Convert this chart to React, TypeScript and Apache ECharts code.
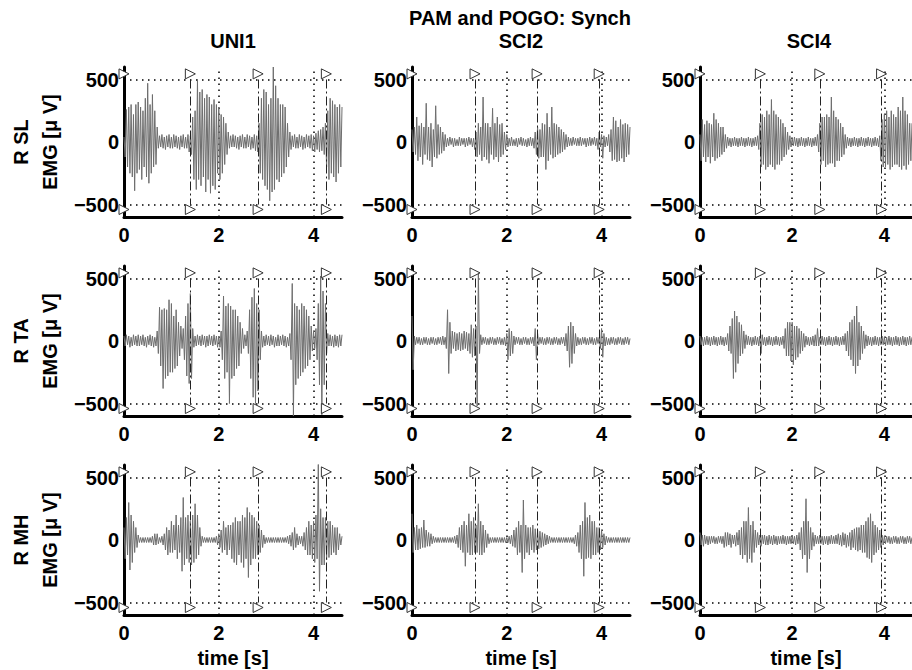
import React, { useEffect, useRef } from 'react';
import * as echarts from 'echarts';

// EMG traces every DT seconds, in units of 10 µV
const DT = 0.025;
const UNIT = 10;
const X_MAX = 4.6;

const subjects = ['UNI1', 'SCI2', 'SCI4'];
const muscles = ['R SL', 'R TA', 'R MH'];
const mainTitle = 'PAM and POGO: Synch';
const yTicks = [-500, 0, 500];
const xTicks = [0, 2, 4];

// event (heel strike) times per subject, s
const eventsUNI1 = [0, 1.4, 2.83, 4.27];
const eventsSCI2 = [0, 1.33, 2.64, 3.95];
const eventsSCI4 = [0, 1.31, 2.6, 3.94];

const slUNI1 = [
  4,-12,26,-20,28,-25,30,-28,22,-39, 30,-25,32,-22,28,-30,25,-20,35,-28,
  47,-33,30,-25,38,-20,25,-18,12,-5, 5,-4,6,-5,4,-6,5,-4,6,-5,
  4,-5,6,-4,5,-5,4,-6,5,-4, 6,-5,4,-5,6,-8,5,-10,20,-30,
  25,-38,50,-30,40,-35,42,-28,35,-40, 38,-30,36,-41,30,-35,34,-38,30,-25,
  28,-30,22,-25,20,-18,15,-10,8,-5, 5,-4,6,-4,5,-5,4,-6,5,-4,
  6,-5,4,-5,6,-4,5,-6,4,-5, 6,-7,5,-8,15,-25,35,-30,42,-35,
  40,-38,30,-47,35,-40,60,-38,45,-30, 35,-32,30,-28,30,-25,28,-20,15,-12,
  8,-6,5,-4,6,-5,4,-5,6,-4, 5,-6,4,-5,6,-4,5,-5,6,-7,
  5,-8,7,-6,9,-8,10,-7,12,-10, 15,-20,25,-30,35,-25,33,-28,30,-32,
  28,-25,30,-20,28];
const slSCI2 = [
  10,-8,12,-10,20,-15,13,-12,15,-18, 12,-10,31,-14,12,-15,15,-20,10,-12,
  29,-13,14,-10,12,-9,8,-7,6,-4, 3,-3,4,-2,3,-4,3,-3,2,-3,
  4,-3,3,-2,3,-4,3,-3,4,-2, 3,-4,3,-6,8,-12,15,-10,12,-15,
  36,-12,15,-14,15,-17,12,-10,27,-14, 15,-12,20,-16,14,-12,15,-10,8,-6,
  6,-4,3,-3,4,-3,2,-3,3,-4, 3,-2,4,-3,3,-3,2,-4,3,-3,
  4,-3,3,-5,8,-10,12,-13,10,-12, 15,-12,14,-22,23,-15,12,-10,28,-13,
  15,-12,14,-10,12,-9,10,-8,8,-6, 6,-4,4,-3,3,-3,4,-2,3,-3,
  3,-3,4,-3,3,-2,3,-4,3,-3, 4,-3,3,-2,4,-3,3,-6,8,-4,
  6,-13,5,-4,4,-3,6,-8,10,-15, 20,-14,17,-16,12,-15,18,-13,14,-16,
  15,-12,14,-10,12];
const slSCI4 = [
  6,-15,18,-12,14,-16,17,-12,15,-17, 14,-12,23,-15,18,-13,15,-12,12,-10,
  12,-8,6,-5,4,-3,3,-4,3,-3, 4,-3,3,-4,3,-3,4,-3,3,-4,
  3,-3,4,-3,3,-4,3,-3,4,-3, 5,-6,15,-20,22,-18,20,-22,25,-20,
  22,-18,34,-20,25,-22,22,-18,20,-18, 18,-15,15,-12,12,-10,8,-6,5,-4,
  3,-3,4,-3,3,-4,3,-3,4,-3, 3,-4,3,-3,4,-3,3,-4,3,-3,
  4,-3,6,-8,15,-18,20,-15,20,-20, 22,-18,20,-17,36,-17,25,-20,20,-15,
  18,-15,15,-12,12,-10,6,-5,4,-3, 3,-4,3,-3,4,-3,3,-4,3,-3,
  4,-3,3,-4,3,-3,4,-3,3,-4, 3,-3,4,-3,3,-4,5,-15,18,-20,
  22,-20,25,-18,20,-22,25,-20,22,-18, 20,-18,28,-20,25,-22,36,-19,25,-22,
  22,-18,15,-15,15];
const taUNI1 = [
  4,-4,5,-3,4,-5,3,-4,5,-3, 4,-4,5,-4,4,-3,5,-4,3,-5,
  4,-3,5,-4,4,-5,3,-4,8,-10, 27,-20,25,-38,26,-30,25,-28,33,-25,
  30,-25,20,-22,25,-20,15,-12,12,-6, 10,-15,20,-28,30,-34,38,-30,10,-5,
  4,-4,5,-3,4,-4,5,-3,4,-5, 4,-4,5,-3,4,-4,5,-3,4,-5,
  4,-5,8,-15,36,-30,28,-25,30,-50, 28,-30,25,-28,25,-22,20,-20,15,-10,
  10,-6,5,-4,8,-10,25,-30,35,-45, 42,-50,30,-40,25,-15,8,-5,4,-4,
  5,-3,4,-4,5,-3,4,-5,3,-4, 5,-4,4,-3,5,-4,4,-5,3,-4,
  6,-15,46,-60,30,-35,28,-30,25,-28, 30,-25,28,-22,25,-20,20,-15,12,-8,
  8,-6,10,-15,30,-35,52,-59,40,-35, 30,-10,6,-4,5,-4,4,-5,5,-4,
  4,-5,5,-4,5];
const taSCI2 = [
  20,-23,4,-3,3,-2,3,-3,2,-3, 3,-2,3,-3,2,-3,3,-2,3,-3,
  2,-3,3,-2,3,-3,4,-3,3,-6, 25,-26,15,-10,8,-6,7,-8,6,-7,
  7,-8,6,-7,8,-6,7,-8,6,-10, 13,-13,10,-12,12,-52,55,-10,5,-3,
  3,-2,3,-3,2,-3,3,-2,3,-3, 2,-3,3,-2,3,-3,2,-3,3,-4,
  6,-15,10,-12,8,-10,4,-3,3,-2, 3,-3,2,-3,3,-2,3,-3,2,-3,
  3,-2,3,-4,10,-15,6,-3,3,-2, 3,-3,2,-3,3,-2,3,-3,2,-3,
  3,-2,3,-3,2,-3,3,-2,3,-4, 6,-8,12,-21,15,-18,12,-10,6,-4,
  3,-3,2,-3,3,-2,3,-3,2,-3, 3,-2,3,-3,2,-3,3,-2,3,-6,
  10,-13,6,-4,3,-3,2,-3,3,-2, 3,-3,2,-3,3,-2,3,-3,2,-3,
  3,-2,3,-3,2];
const taSCI4 = [
  4,-3,3,-4,3,-3,4,-3,3,-4, 3,-3,4,-3,3,-4,3,-3,4,-3,
  3,-4,3,-3,6,-8,12,-10,18,-30, 24,-25,20,-18,15,-12,13,-10,8,-6,
  5,-3,4,-3,3,-4,3,-3,4,-3, 3,-4,4,-10,5,-3,3,-4,3,-3,
  4,-3,3,-4,3,-3,4,-3,3,-4, 3,-3,4,-6,10,-12,15,-12,15,-16,
  15,-19,12,-15,12,-13,10,-10,8,-8, 6,-5,4,-3,3,-4,3,-3,4,-4,
  5,-4,10,-4,3,-3,4,-3,3,-4, 3,-3,4,-3,3,-4,3,-3,4,-3,
  3,-4,3,-3,4,-3,6,-8,8,-12, 15,-15,17,-20,20,-26,28,-20,15,-15,
  12,-10,8,-6,5,-4,4,-3,3,-4, 3,-3,4,-3,3,-4,3,-3,4,-3,
  3,-4,3,-3,4,-3,3,-4,3,-3, 4,-3,3,-4,3,-3,4,-3,3,-4,
  3,-3,4,-3,3];
const mhUNI1 = [
  10,-15,18,-12,30,-24,20,-18,15,-10, 10,-6,4,-2,2,-2,2,-2,2,-2,
  2,-2,2,-2,3,-4,5,-4,5,-3, 2,-2,3,-4,5,-8,10,-12,8,-10,
  15,-10,12,-8,20,-15,12,-10,18,-25, 34,-20,18,-15,20,-18,15,-20,20,-18,
  29,-15,20,-12,10,-5,3,-2,2,-2, 2,-2,2,-2,2,-2,2,-2,3,-4,
  5,-6,8,-10,15,-8,10,-12,12,-8, 12,-15,14,-18,18,-20,15,-12,15,-18,
  20,-22,18,-15,26,-30,22,-20,20,-15, 18,-15,15,-12,12,-10,8,-6,4,-3,
  2,-2,2,-2,2,-2,2,-2,2,-2, 2,-2,2,-2,2,-2,2,-2,3,-3,
  4,-5,6,-8,10,-6,5,-4,3,-3, 3,-5,6,-8,10,-12,15,-12,12,-15,
  15,-18,20,-15,61,-41,25,-20,18,-20, 18,-16,15,-14,15,-12,12,-10,10,-12,
  10,-8,5,-4,3];
const mhSCI2 = [
  21,-10,10,-8,12,-8,9,-7,10,-6, 16,-6,8,-5,6,-5,5,-3,3,-2,
  2,-2,2,-2,2,-2,2,-2,2,-2, 2,-2,2,-2,2,-2,3,-3,4,-6,
  10,-8,12,-10,15,-21,12,-10,21,-12, 15,-12,18,-10,12,-10,29,-12,15,-12,
  12,-10,8,-6,5,-3,2,-2,2,-2, 2,-2,2,-2,2,-2,2,-2,2,-2,
  2,-2,3,-3,4,-5,8,-6,10,-12, 15,-10,12,-26,32,-15,12,-10,10,-12,
  10,-8,12,-10,9,-8,8,-7,7,-6, 6,-5,5,-4,4,-3,3,-2,2,-2,
  2,-2,2,-2,2,-2,2,-2,2,-2, 2,-2,2,-2,2,-2,2,-3,4,-5,
  6,-10,12,-15,15,-29,30,-15,18,-14, 20,-15,15,-12,15,-12,10,-10,10,-8,
  8,-6,5,-4,3,-2,2,-2,2,-2, 2,-2,2,-2,2,-2,2,-2,2,-2,
  2,-2,2,-2,2];
const mhSCI4 = [
  6,-4,4,-5,4,-3,3,-4,3,-3, 3,-2,3,-3,2,-3,3,-2,3,-3,
  3,-6,6,-5,6,-4,5,-6,4,-3, 4,-5,6,-4,8,-12,10,-15,15,-12,
  15,-18,26,-15,12,-18,15,-10,8,-6, 6,-4,4,-5,4,-3,4,-4,3,-4,
  4,-3,3,-4,4,-3,3,-4,3,-3, 3,-3,4,-3,3,-4,3,-3,3,-3,
  4,-3,3,-4,4,-3,6,-8,10,-15, 15,-12,33,-26,15,-15,10,-8,6,-5,
  4,-3,3,-3,4,-3,3,-4,3,-3, 3,-4,3,-3,4,-3,3,-3,4,-3,
  5,-4,4,-5,6,-4,5,-6,4,-5, 6,-8,8,-6,9,-8,10,-9,10,-8,
  12,-10,12,-10,15,-14,18,-15,21,-18, 15,-12,12,-10,10,-8,8,-6,4,-4,
  3,-3,3,-2,3,-3,2,-3,3,-2, 3,-3,2,-3,3,-2,3,-3,2,-3,
  3,-2,3,-3,2];

const traces = [
  [slUNI1, slSCI2, slSCI4],
  [taUNI1, taSCI2, taSCI4],
  [mhUNI1, mhSCI2, mhSCI4],
];
const events = [eventsUNI1, eventsSCI2, eventsSCI4];

const FONT = '"Liberation Sans", Arial, Helvetica, sans-serif';
const FS = 20;
const COL_LEFT = [124, 412, 700];
const ROW_TOP = [67, 266, 465];
const GW = 218;
const GH = 150;

function buildOption() {
  const grid: any[] = [];
  const xAxis: any[] = [];
  const yAxis: any[] = [];
  const series: any[] = [];
  const graphic: any[] = [];
  const labelStyle = { color: '#000', fontSize: FS, fontWeight: 'bold', fontFamily: FONT };

  for (let r = 0; r < 3; r++) {
    for (let c = 0; c < 3; c++) {
      const k = r * 3 + c;
      grid.push({ left: COL_LEFT[c], top: ROW_TOP[r], width: GW, height: GH });
      xAxis.push({
        gridIndex: k, type: 'value', min: 0, max: X_MAX, interval: 2,
        name: r === 2 ? 'time [s]' : '', nameLocation: 'middle', nameGap: 33,
        nameTextStyle: { ...labelStyle },
        axisLine: { show: true, onZero: false, lineStyle: { color: '#000', width: 3 } },
        axisTick: { show: false }, splitLine: { show: false },
        axisLabel: {
          ...labelStyle, margin: 8, showMaxLabel: false,
          formatter: (v: number) => (xTicks.includes(v) ? String(v) : ''),
        },
      });
      yAxis.push({
        gridIndex: k, type: 'value', min: -600, max: 600, interval: 100,
        axisLine: { show: true, onZero: false, lineStyle: { color: '#000', width: 3 } },
        axisTick: { show: false }, splitLine: { show: false },
        axisLabel: {
          ...labelStyle, margin: 5,
          formatter: (v: number) => (yTicks.includes(v) ? (v < 0 ? '\u2212' + Math.abs(v) : String(v)) : ''),
        },
      });
      const vals = traces[r][c];
      const ev = events[c];
      series.push({
        type: 'line', xAxisIndex: k, yAxisIndex: k, z: 2,
        data: vals.map((v, i) => [+(i * DT).toFixed(3), v * UNIT]),
        showSymbol: false, symbol: 'none', silent: true,
        lineStyle: { color: '#6e6e6e', width: 1 },
        markLine: {
          silent: true, symbol: ['none', 'none'], label: { show: false }, z: 1,
          lineStyle: { color: '#000', width: 1.5, type: [1.5, 4.5] },
          data: [{ yAxis: 500 }, { yAxis: -500 }, { xAxis: 2 }, { xAxis: 4 }],
        },
      });
      series.push({
        type: 'scatter', xAxisIndex: k, yAxisIndex: k, z: 6, silent: true,
        symbol: 'path://M0,0L10,5L0,10Z', symbolSize: [10, 10],
        itemStyle: { color: '#fff', borderColor: '#333', borderWidth: 1, opacity: 1 },
        data: ev.flatMap((t) => [[t, 545], [t, -540]]),
        markLine: {
          silent: true, symbol: ['none', 'none'], label: { show: false }, z: 5,
          lineStyle: { color: '#222', width: 1, type: [9, 3, 2, 3] },
          data: ev.filter((t) => t > 0).map((t) => [{ coord: [t, 500] }, { coord: [t, -500] }]),
        },
      });
    }
  }

  graphic.push({
    type: 'text', x: 520, y: 18, silent: true,
    style: { text: mainTitle, textAlign: 'center', textVerticalAlign: 'middle', fill: '#000', font: `bold ${FS}px ${FONT}` },
  });
  subjects.forEach((s, c) => {
    graphic.push({
      type: 'text', x: COL_LEFT[c] + GW / 2, y: 41, silent: true,
      style: { text: s, textAlign: 'center', textVerticalAlign: 'middle', fill: '#000', font: `bold ${FS}px ${FONT}` },
    });
  });
  muscles.forEach((m, r) => {
    const cy = ROW_TOP[r] + GH / 2;
    graphic.push({
      type: 'text', x: 21, y: cy, rotation: Math.PI / 2, silent: true,
      style: { text: m, textAlign: 'center', textVerticalAlign: 'middle', fill: '#000', font: `bold ${FS}px ${FONT}` },
    });
    graphic.push({
      type: 'text', x: 50, y: cy, rotation: Math.PI / 2, silent: true,
      style: { text: 'EMG [\u03bc V]', textAlign: 'center', textVerticalAlign: 'middle', fill: '#000', font: `bold ${FS}px ${FONT}` },
    });
  });

  return { animation: false, backgroundColor: '#fff', grid, xAxis, yAxis, series, graphic };
}

export default function App() {
  const ref = useRef<HTMLDivElement>(null);
  useEffect(() => {
    if (!ref.current) return;
    const chart = echarts.init(ref.current, undefined, { renderer: 'svg' });
    chart.setOption(buildOption() as any);
    return () => chart.dispose();
  }, []);
  return <div ref={ref} style={{ position: 'fixed', left: 0, top: 0, width: 912, height: 670, background: '#fff' }} />;
}
